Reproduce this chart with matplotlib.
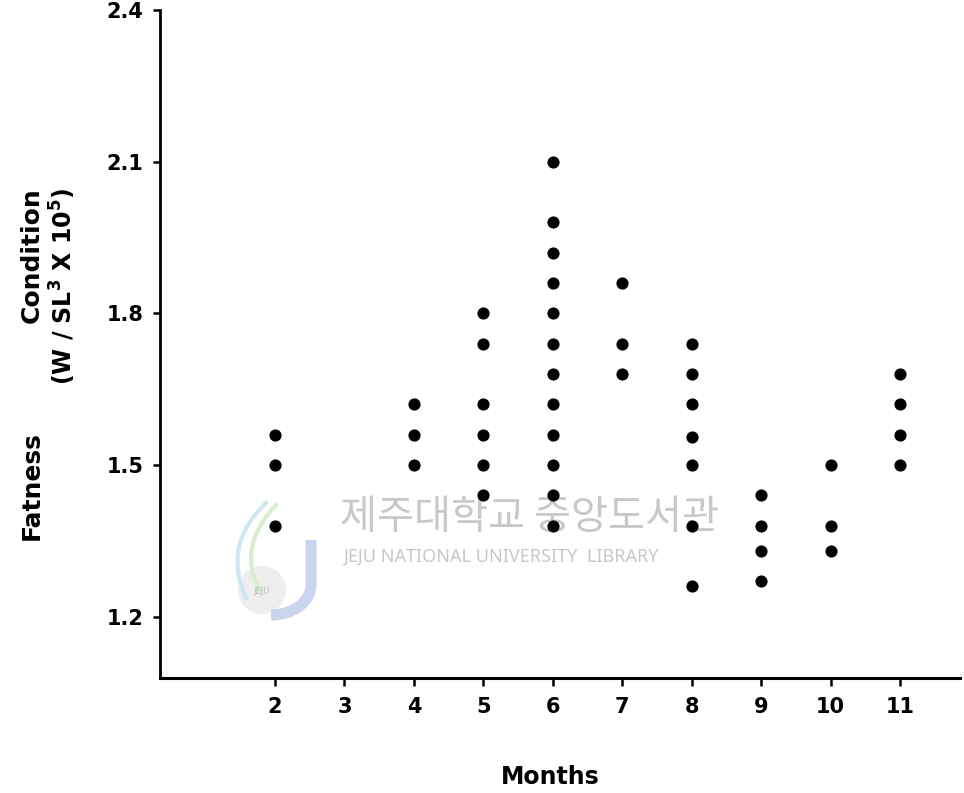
import numpy as np
import matplotlib
matplotlib.use("Agg")
import matplotlib.pyplot as plt

# fatness condition values, one list per month
months = [2, 4, 5, 6, 7, 8, 9, 10, 11]
month2 = [1.56, 1.50, 1.38]
month4 = [1.62, 1.56, 1.50]
month5 = [1.80, 1.74, 1.62, 1.56, 1.50, 1.44]
month6 = [2.10, 1.98, 1.92, 1.86, 1.80, 1.74, 1.68, 1.62, 1.56, 1.50, 1.44, 1.38]
month7 = [1.86, 1.74, 1.68]
month8 = [1.74, 1.68, 1.62, 1.555, 1.50, 1.38, 1.26]
month9 = [1.44, 1.38, 1.33, 1.27]
month10 = [1.50, 1.38, 1.33]
month11 = [1.68, 1.62, 1.56, 1.50]

xticks = [2, 3, 4, 5, 6, 7, 8, 9, 10, 11]
yticks = [1.2, 1.5, 1.8, 2.1, 2.4]
ytick_labels = ["1.2", "1.5", "1.8", "2.1", "2.4"]

groups = [month2, month4, month5, month6, month7, month8, month9, month10, month11]
x = np.concatenate([[m] * len(g) for m, g in zip(months, groups)])
y = np.concatenate(groups)

W, H = 964, 793
fig = plt.figure(figsize=(W / 100, H / 100), dpi=100)

# overlay for the library watermark (pixel coords), below the chart
wm = fig.add_axes([0, 0, 1, 1], zorder=0)
wm.set_xlim(0, W)
wm.set_ylim(H, 0)
wm.axis("off")

def bez(p0, p1, p2, n=40):
    t = np.linspace(0, 1, n)[:, None]
    pts = (1 - t) ** 2 * np.array(p0) + 2 * (1 - t) * t * np.array(p1) + t ** 2 * np.array(p2)
    return pts[:, 0], pts[:, 1]

wm.add_patch(plt.Circle((262, 590), 24, color="#eeeeee", lw=0))
bx, by = bez((266, 503), (222, 545), (246, 598))
wm.plot(bx, by, color="#cfe7f4", lw=3)
gx, gy = bez((276, 505), (236, 548), (260, 590))
wm.plot(gx, gy, color="#dcecd0", lw=3)
t = np.linspace(0, np.pi / 2, 30)
jx = np.concatenate([[311, 311], 271 + 40 * np.cos(t)])
jy = np.concatenate([[540, 585], 585 + 30 * np.sin(t)])
wm.plot(jx, jy, color="#c9d5ec", lw=8, solid_capstyle="butt")
wm.text(262, 592, "JEJU", fontsize=6, color="#b8b8b8", ha="center", va="center")
wm.text(340, 517, "제주대학교 중앙도서관", fontsize=29, color="#c8c8c8",
        ha="left", va="center", family=["Noto Sans CJK KR", "DejaVu Sans"])
wm.text(343, 557, "JEJU NATIONAL UNIVERSITY  LIBRARY", fontsize=13, color="#c8c8c8",
        ha="left", va="center", family="Noto Sans")

# main chart
ax = fig.add_axes([160 / W, 1 - 678 / H, 800 / W, 668 / H], zorder=1)
ax.patch.set_visible(False)
ax.scatter(x, y, s=60, color="black", zorder=3)

ax.set_xlim(0.344, 11.864)
ax.set_ylim(1.079, 2.4)
ax.set_xticks(xticks)
ax.set_yticks(yticks)
ax.set_yticklabels(ytick_labels)

ax.spines["top"].set_visible(False)
ax.spines["right"].set_visible(False)
ax.spines["left"].set_linewidth(2)
ax.spines["bottom"].set_linewidth(2.2)
ax.tick_params(axis="y", direction="out", length=5, width=1.8, pad=7, labelsize=15)
ax.tick_params(axis="x", direction="out", length=6, width=1.8, pad=8, labelsize=15)
for lab in ax.get_xticklabels() + ax.get_yticklabels():
    lab.set_fontweight("bold")

# axis titles
fig.text(550 / W, 1 - 777 / H, "Months", fontsize=17, fontweight="bold",
         ha="center", va="center")
fig.text(32 / W, 1 - 187 / H, "Condition", fontsize=18, fontweight="bold",
         rotation=90, ha="center", va="top")
fig.text(32 / W, 1 - 540 / H, "Fatness", fontsize=18, fontweight="bold",
         rotation=90, ha="center", va="bottom")
fig.text(63 / W, 1 - 188 / H, r"(W / SL$^\mathbf{3}$ X 10$^\mathbf{5}$)", fontsize=17,
         fontweight="bold", rotation=90, ha="center", va="top")

fig.savefig("out.png", dpi=100)
